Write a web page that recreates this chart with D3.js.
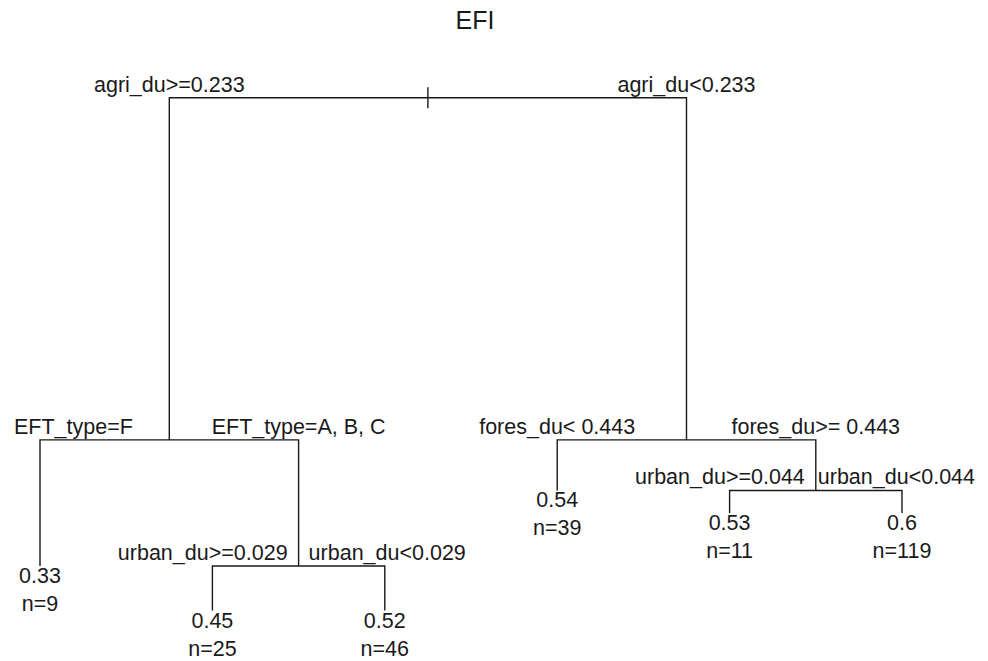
<!DOCTYPE html>
<html>
<head>
<meta charset="utf-8">
<script src="https://cdn.jsdelivr.net/npm/d3@7/dist/d3.min.js"></script>
<style>
  body { margin: 0; background: #fff; }
  svg text { font-family: "Liberation Sans", Arial, Helvetica, sans-serif; fill: #1a1a1a; }
</style>
</head>
<body>
<svg id="tree" width="988" height="661"></svg>
<script>
// regression tree for EFI (rpart style), node ids follow rpart numbering
var chartTitle = "EFI";

// internal nodes and their splits
var splitNodes  = [1, 2, 3, 5, 7];
var leftLabels  = ["agri_du>=0.233", "EFT_type=F", "fores_du< 0.443", "urban_du>=0.029", "urban_du>=0.044"];
var rightLabels = ["agri_du<0.233", "EFT_type=A, B, C", "fores_du>= 0.443", "urban_du<0.029", "urban_du<0.044"];
// deviance drop of each split (relative units)
var devDrop     = [3.42, 1.26, 0.505, 0.445, 0.225];

// terminal nodes
var leafNodes = [4, 10, 11, 6, 14, 15];
var leafMeans = [0.33, 0.45, 0.52, 0.54, 0.53, 0.6];
var leafN     = [9, 25, 46, 39, 11, 119];

var fontSize = 21.5;

/*
// Builds x (leaf order, parents at the middle of their children) and
// y (cumulative deviance drop) for every node, like rpart does
*/
function Layout()
{
  var nodes = {};
  var leafCount = 0;
  function walk(id, depth)
  {
    var i = splitNodes.indexOf(id);
    if(i < 0)
    {
      leafCount += 1;
      nodes[id] = {id: id, x: leafCount, y: depth, leaf: true};
      return nodes[id];
    }
    var l = walk(id * 2, depth + devDrop[i]);
    var r = walk(id * 2 + 1, depth + devDrop[i]);
    nodes[id] = {id: id, x: (l.x + r.x) / 2, y: depth, leaf: false};
    return nodes[id];
  }
  walk(1, 0);
  return nodes;
}

var nodes = Layout();
var nodeArr = Object.values(nodes);

var xScale = d3.scaleLinear()
               .domain([1, leafNodes.length])
               .range([40, 902]);
var yScale = d3.scaleLinear()
               .domain([0, d3.max(nodeArr, function(d) {return d.y;})])
               .range([97.7, 610.5]);

var svg = d3.select("#tree");
var g = svg.append("g");

// title, centred over the plot region
svg.append("text")
   .attr("x", (xScale.range()[0] + xScale.range()[1]) / 2 + 4)
   .attr("y", 29)
   .attr("text-anchor", "middle")
   .style("font-size", "25px")
   .text(chartTitle);

var line = {stroke: "#1a1a1a", width: 1.4};

// root stub
var root = nodes[1];
g.append("line")
 .attr("x1", xScale(root.x)).attr("x2", xScale(root.x))
 .attr("y1", yScale(root.y) - 10.5).attr("y2", yScale(root.y) + 10.5)
 .attr("stroke", line.stroke).attr("stroke-width", line.width);

// branches: horizontal bar at the split, verticals down to both children
splitNodes.forEach(function(id)
{
  var p = nodes[id], l = nodes[id * 2], r = nodes[id * 2 + 1];
  var path = d3.path();
  path.moveTo(xScale(l.x), yScale(l.y));
  path.lineTo(xScale(l.x), yScale(p.y));
  path.lineTo(xScale(r.x), yScale(p.y));
  path.lineTo(xScale(r.x), yScale(r.y));
  g.append("path")
   .attr("d", path.toString())
   .attr("fill", "none")
   .attr("stroke", line.stroke)
   .attr("stroke-width", line.width);
});

/*
// Split labels: centred over the child, pushed away from the parent's
// vertical line and kept inside the page
*/
splitNodes.forEach(function(id, i)
{
  var p = nodes[id], l = nodes[id * 2], r = nodes[id * 2 + 1];
  var yy = yScale(p.y) - 6;

  var tl = g.append("text").attr("y", yy).style("font-size", fontSize + "px").text(leftLabels[i]);
  var wl = tl.node().getComputedTextLength();
  var sl = xScale(l.x) - wl / 2;
  if(sl + wl > xScale(p.x) - 11) sl = xScale(p.x) - 11 - wl;
  if(sl < 14) sl = 14;
  tl.attr("x", sl);

  var tr = g.append("text").attr("y", yy).style("font-size", fontSize + "px").text(rightLabels[i]);
  var wr = tr.node().getComputedTextLength();
  var sr = xScale(r.x) - wr / 2;
  if(sr < xScale(p.x) + 10) sr = xScale(p.x) + 10;
  if(sr + wr > 975) sr = 975 - wr;
  tr.attr("x", sr);
});

// leaf labels: mean and number of observations
leafNodes.forEach(function(id, i)
{
  var d = nodes[id];
  g.append("text")
   .attr("x", xScale(d.x))
   .attr("y", yScale(d.y) + 17)
   .attr("text-anchor", "middle")
   .style("font-size", fontSize + "px")
   .text(String(leafMeans[i]));
  g.append("text")
   .attr("x", xScale(d.x))
   .attr("y", yScale(d.y) + 45)
   .attr("text-anchor", "middle")
   .style("font-size", fontSize + "px")
   .text("n=" + leafN[i]);
});
</script>
</body>
</html>
